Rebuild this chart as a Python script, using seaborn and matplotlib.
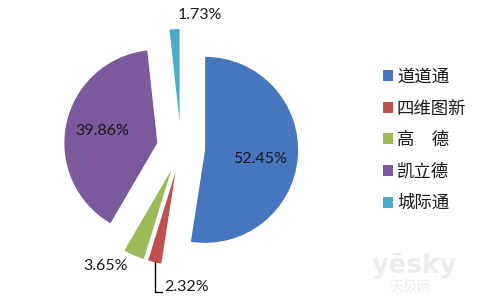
import matplotlib
matplotlib.use("Agg")
import matplotlib.pyplot as plt
import seaborn as sns
import numpy as np

sns.set_theme(style="white")
plt.rcParams['font.family'] = ['Noto Sans CJK SC', 'DejaVu Sans']

# ---- data ----
categories = ["道道通", "四维图新", "高　德", "凯立德", "城际通"]
shares = [52.45, 2.32, 3.65, 39.86, 1.73]
pct_labels = ["52.45%", "2.32%", "3.65%", "39.86%", "1.73%"]

# ---- style ----
colors = ["#4677BE", "#C0504D", "#9BBB59", "#7A5A9C", "#4BACC6"]
explode = [0.26, 0.26, 0.26, 0.26, 0.28]
# label offsets from each wedge's own centre, in radius units
label_off = [(0.59, -0.10), (-0.12, -1.24), (-0.71, -1.03), (-0.59, 0.13), (0.22, 1.15)]

W, H = 480, 299
fig = plt.figure(figsize=(W / 100, H / 100), dpi=100)
ax_w_px = 360
ax = fig.add_axes([0, 0, ax_w_px / W, 1])

wedges, _ = ax.pie(shares, colors=colors, startangle=90, counterclock=False,
                   explode=explode, radius=1.0,
                   wedgeprops=dict(linewidth=0))

# pixel scale: radius = 93 px, centre at (181, 148 from top)
r_px = 93.0
cx_px, cy_px = 181.0, 148.0
ax.set_xlim(-cx_px / r_px, (ax_w_px - cx_px) / r_px)
ax.set_ylim(-(H - cy_px) / r_px, cy_px / r_px)

for i, w in enumerate(wedges):
    c = np.array(w.center)
    dx, dy = label_off[i]
    tx, ty = c[0] + dx, c[1] + dy
    ax.text(tx, ty, pct_labels[i], ha="left" if i == 1 else "center", va="center",
            fontsize=11.5, family=["Lato", "DejaVu Sans"], color="#1a1a1a")

# leader line for the small red slice
w = wedges[1]
mid = np.deg2rad((w.theta1 + w.theta2) / 2)
arc = np.array(w.center) + w.r * np.array([np.cos(mid), np.sin(mid)])
ty_line = np.array(w.center)[1] + label_off[1][1] - 5 / r_px
tx_end = np.array(w.center)[0] + label_off[1][0] - 2 / r_px
ax.plot([arc[0], arc[0], tx_end], [arc[1], ty_line, ty_line], color="black", lw=1)

# legend
leg = fig.legend(wedges, categories, loc="upper left",
                 bbox_to_anchor=(383 / W, 1 - 68 / H),
                 frameon=False, fontsize=12.5, handlelength=0.6, handleheight=0.6,
                 handletextpad=0.2, labelspacing=0.78, borderpad=0, borderaxespad=0)
for t in leg.get_texts():
    t.set_color("#1a1a1a")

# watermark
fig.text(415 / W, 1 - 266 / H, "yēsky", ha="center", va="center", fontsize=19,
         color="#ececec", family=["DejaVu Sans"], fontweight="bold")
fig.text(410 / W, 1 - 287 / H, "天极网", ha="center", va="center", fontsize=10,
         color="#ececec")

fig.savefig("out.png", dpi=100)
